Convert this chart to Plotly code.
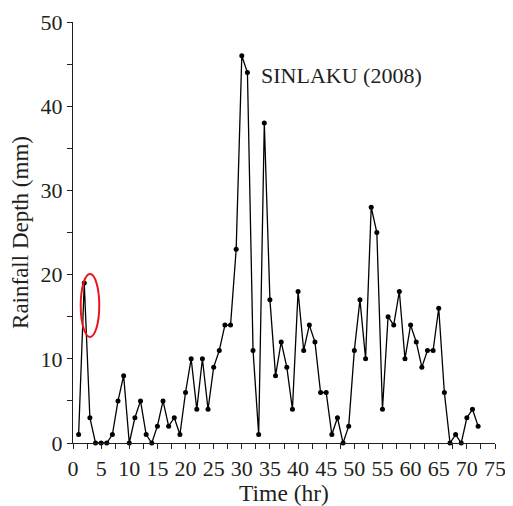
import plotly.graph_objects as go

hours = list(range(1, 73))
rainfall = [1, 19, 3, 0, 0, 0, 1, 5, 8, 0,
            3, 5, 1, 0, 2, 5, 2, 3, 1, 6,
            10, 4, 10, 4, 9, 11, 14, 14, 23, 46,
            44, 11, 1, 38, 17, 8, 12, 9, 4, 18,
            11, 14, 12, 6, 6, 1, 3, 0, 2, 11,
            17, 10, 28, 25, 4, 15, 14, 18, 10, 14,
            12, 9, 11, 11, 16, 6, 0, 1, 0, 3,
            4, 2]
x_ticks = [0, 5, 10, 15, 20, 25, 30, 35, 40, 45, 50, 55, 60, 65, 70, 75]
y_ticks = [0, 10, 20, 30, 40, 50]
label = "SINLAKU (2008)"

FONT = "Liberation Serif"
INK = "#231f20"

fig = go.Figure()
fig.add_trace(go.Scatter(
    x=hours, y=rainfall, mode="lines+markers",
    line=dict(color="black", width=1.3),
    marker=dict(color="black", size=5),
    showlegend=False, cliponaxis=False,
))

fig.add_shape(type="circle", xref="x", yref="y",
              x0=1.37, x1=4.67, y0=12.6, y1=20.07,
              line=dict(color="#e8161b", width=2))

fig.add_annotation(x=33.1, y=43.7, text=label, showarrow=False,
                   xanchor="left", yanchor="middle",
                   font=dict(family=FONT, size=22, color=INK))

# the page body has an 8px margin, so the figure is sized/offset to compensate
fig.update_layout(
    width=505, height=498,
    margin=dict(l=65, r=18, t=14, b=63),
    paper_bgcolor="white", plot_bgcolor="white",
    font=dict(family=FONT, size=22, color=INK),
)
fig.update_xaxes(
    range=[0, 75], tickvals=x_ticks, ticktext=[str(v) for v in x_ticks],
    showgrid=False, zeroline=False, automargin=False,
    showline=True, linecolor=INK, linewidth=1.3,
    ticks="outside", ticklen=5, tickwidth=1.3, tickcolor=INK,
    minor=dict(dtick=2.5, tick0=0, ticks="outside", ticklen=5, tickwidth=1.3, tickcolor=INK),
    title=dict(text="Time (hr)", standoff=3, font=dict(family=FONT, size=23.5, color=INK)),
    tickfont=dict(size=22),
)
fig.update_yaxes(
    range=[0, 50], tickvals=y_ticks, ticktext=[str(v) for v in y_ticks],
    showgrid=False, zeroline=False, automargin=False,
    showline=True, linecolor=INK, linewidth=1.3,
    ticks="outside", ticklen=5, tickwidth=1.3, tickcolor=INK,
    minor=dict(dtick=5, tick0=0, ticks="outside", ticklen=5, tickwidth=1.3, tickcolor=INK),
    title=dict(text="Rainfall Depth (mm)", standoff=7, font=dict(family=FONT, size=23, color=INK)),
    tickfont=dict(size=22),
)

fig.write_html("out.html")
